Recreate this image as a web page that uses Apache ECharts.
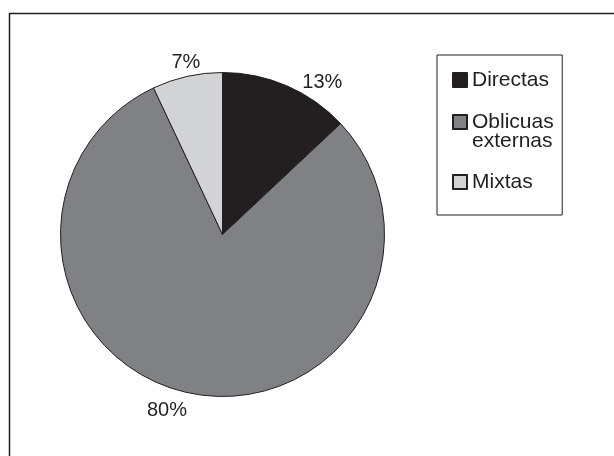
<!DOCTYPE html>
<html>
<head>
<meta charset="utf-8">
<script src="https://cdn.jsdelivr.net/npm/echarts@6/dist/echarts.min.js"></script>
<style>
html,body{margin:0;padding:0;background:#fff;}
#chart{width:614px;height:456px;}
</style>
</head>
<body>
<div id="chart"></div>
<script>
const categories = ['Directas', 'Oblicuas\nexternas', 'Mixtas'];
const values = [13, 80, 7];
const colors = ['#231f20', '#808184', '#d1d3d4'];

const FONT = 'Liberation Sans, Arial, sans-serif';
const labelShift = [[9, 0], [0.5, 13], [19, -10]];

const chart = echarts.init(document.getElementById('chart'), null, {renderer: 'canvas'});
const seriesData = categories.map((c, i) => ({
  name: c, value: values[i], itemStyle: {color: colors[i]}
}));

chart.setOption({
  backgroundColor: '#ffffff',
  animation: false,
  graphic: [{
    type: 'rect', left: 7, top: 11,
    shape: {width: 620, height: 460},
    style: {fill: 'none', stroke: '#231f20', lineWidth: 1.5},
    z: -1
  }],
  legend: {
    orient: 'vertical',
    left: 437, top: 55,
    padding: [14.5, 8.5, 4.5, 15],
    borderColor: '#231f20', borderWidth: 1,
    itemWidth: 14, itemHeight: 14, itemGap: 2,
    itemTextGap: 7,
    icon: 'rect',
    formatter: function (name) {
      return name.indexOf('\n') >= 0 ? '\n' + name : name;
    },
    textStyle: {fontFamily: FONT, fontSize: 21, color: '#231f20', lineHeight: 19},
    data: [
      {name: categories[0]},
      {name: categories[1]},
      {name: categories[2], textStyle: {padding: [19, 0, 19, 0]}}
    ]
  },
  series: [{
    type: 'pie',
    center: [222.5, 234.5],
    radius: 162,
    startAngle: 90,
    clockwise: true,
    avoidLabelOverlap: false,
    itemStyle: {borderColor: '#231f20', borderWidth: 1},
    label: {
      show: true, position: 'outside',
      formatter: '{c}%',
      fontFamily: FONT, fontSize: 20, color: '#231f20'
    },
    labelLine: {show: false, length: 3.6, length2: 0},
    labelLayout: function (p) {
      const s = labelShift[p.dataIndex];
      return {dx: s[0], dy: s[1]};
    },
    emphasis: {disabled: true},
    data: seriesData
  }]
});
</script>
</body>
</html>
